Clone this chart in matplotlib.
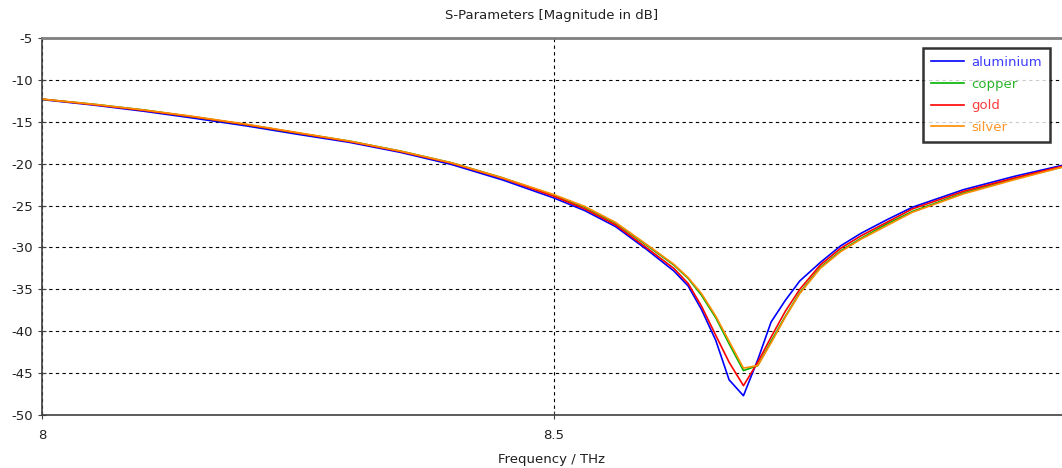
import matplotlib

matplotlib.use("Agg")
import matplotlib.pyplot as plt
from matplotlib.ticker import FixedLocator, FuncFormatter

# frequency samples (THz), finer around the resonance dip
freq = [8.0, 8.05, 8.1, 8.15, 8.2, 8.25, 8.3, 8.35, 8.4, 8.45, 8.5,
        8.53, 8.56, 8.59, 8.617, 8.631, 8.644, 8.658, 8.671, 8.685, 8.699,
        8.712, 8.726, 8.74, 8.76, 8.78, 8.8, 8.825, 8.85, 8.9, 8.95, 9.0]

aluminium = [-12.35, -13.0, -13.75, -14.6, -15.5, -16.5, -17.45, -18.65, -20.1, -21.95, -24.1,
             -25.6, -27.5, -30.2, -32.8, -34.6, -37.4, -41.1, -45.8, -47.7, -43.4,
             -38.9, -36.3, -34.0, -31.8, -29.8, -28.3, -26.7, -25.2, -23.1, -21.5, -20.1]
copper = [-12.3, -12.9, -13.6, -14.45, -15.35, -16.35, -17.3, -18.5, -19.9, -21.7, -23.8,
          -25.2, -27.1, -29.7, -32.1, -33.7, -35.7, -38.4, -41.5, -44.7, -44.1,
          -41.2, -38.2, -35.4, -32.4, -30.4, -28.9, -27.2, -25.7, -23.5, -21.8, -20.3]
gold = [-12.3, -12.95, -13.65, -14.45, -15.35, -16.35, -17.35, -18.55, -19.95, -21.75, -23.9,
        -25.4, -27.3, -30.0, -32.5, -34.3, -37.0, -40.5, -43.7, -46.5, -43.7,
        -40.7, -37.6, -35.0, -32.1, -30.1, -28.6, -27.0, -25.4, -23.3, -21.7, -20.2]
silver = [-12.3, -12.9, -13.6, -14.4, -15.3, -16.3, -17.3, -18.5, -19.9, -21.7, -23.7,
          -25.1, -27.0, -29.6, -32.0, -33.6, -35.5, -38.2, -41.2, -44.4, -44.1,
          -41.4, -38.3, -35.5, -32.5, -30.5, -29.0, -27.4, -25.8, -23.6, -21.9, -20.3]

series = [("aluminium", aluminium, "#0000ff", "#3c3cff"),
          ("copper", copper, "#00b400", "#28b428"),
          ("gold", gold, "#ff0000", "#ff3c3c"),
          ("silver", silver, "#ff8c00", "#ff9628")]

y_ticks = [-50, -45, -40, -35, -30, -25, -20, -15, -10, -5]
x_ticks = [8.0, 8.5]

fig = plt.figure(figsize=(10.62, 4.68), dpi=100)
ax = fig.add_axes([42 / 1062, 1 - 415 / 468, 1 - 42 / 1062, (415 - 38) / 468])

for name, vals, col, _ in series:
    ax.plot(freq, vals, color=col, lw=1.2, label=name)

ax.set_xlim(8.0, 8.0 + 1020 / 1024)
ax.set_ylim(-50, -5)
ax.xaxis.set_major_locator(FixedLocator(x_ticks))
ax.yaxis.set_major_locator(FixedLocator(y_ticks))
ax.xaxis.set_major_formatter(FuncFormatter(lambda v, _: f"{v:g}"))
ax.yaxis.set_major_formatter(FuncFormatter(lambda v, _: f"{v:g}"))
ax.tick_params(direction="inout", length=6, width=0.8, color="#404040",
               labelsize=9.5, labelcolor="#202020")
ax.tick_params(axis="x", pad=7)
ax.grid(True, color="black", linestyle=(0, (3, 3)), linewidth=0.8)

for side in ("left", "bottom"):
    ax.spines[side].set_color("#404040")
    ax.spines[side].set_linewidth(1.2)
ax.spines["right"].set_visible(False)
ax.spines["top"].set_color("#808080")
ax.spines["top"].set_linewidth(2.0)

ax.set_title("S-Parameters [Magnitude in dB]", fontsize=9.5, color="#202020", pad=14)
ax.set_xlabel("Frequency / THz", fontsize=9.5, color="#202020", labelpad=8)

leg = ax.legend(loc="upper right", bbox_to_anchor=(0.988, 0.973), fontsize=9.5,
                frameon=True, fancybox=False, borderpad=0.6, handlelength=2.5,
                handletextpad=0.55, labelspacing=0.65, borderaxespad=0.0)
leg.get_frame().set_edgecolor("black")
leg.get_frame().set_linewidth(1.8)
for txt, (_, _, _, tcol) in zip(leg.get_texts(), series):
    txt.set_color(tcol)

fig.savefig("out.png", dpi=100)
